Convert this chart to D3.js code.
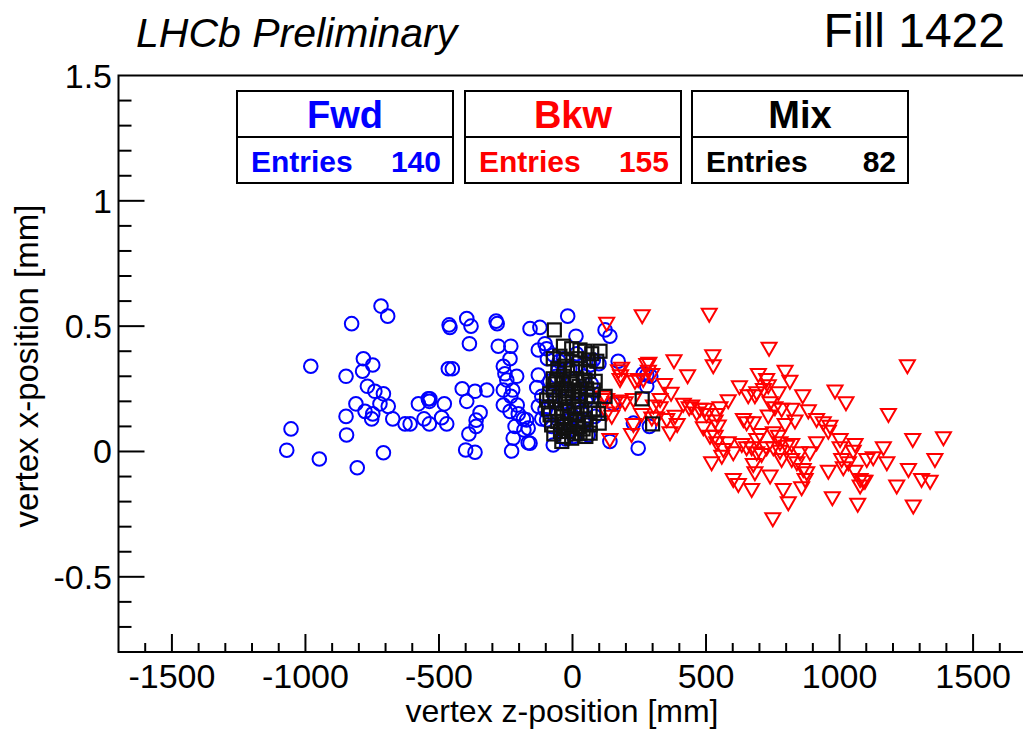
<!DOCTYPE html>
<html>
<head>
<meta charset="utf-8">
<script src="https://cdn.jsdelivr.net/npm/d3@7"></script>
<style>
  body { margin: 0; background: #fff; }
  svg { display: block; font-family: "Liberation Sans", Arial, sans-serif; }
</style>
</head>
<body>
<div id="chart"></div>
<script>
// [z (mm), x (mm)]
const fwd = [
  [-717,0.58],[-692,0.54],[-827,0.51],[-980,0.34],[-848,0.30],[-783,0.37],[-748,0.345],[-786,0.32],[-768,0.26],[-740,0.24],
  [-708,0.23],[-811,0.19],[-721,0.19],[-690,0.18],[-777,0.16],[-748,0.15],[-752,0.13],[-848,0.14],[-673,0.13],[-846,0.066],
  [-1054,0.09],[-1070,0.005],[-948,-0.03],[-806,-0.065],[-708,-0.005],[-627,0.11],[-608,0.11],[-577,0.19],[-540,0.21],[-536,0.20],
  [-534,0.21],[-480,0.19],[-556,0.13],[-536,0.11],[-490,0.135],[-471,0.11],[-462,0.505],[-459,0.495],[-465,0.33],[-450,0.33],
  [-396,0.53],[-380,0.50],[-386,0.43],[-413,0.25],[-365,0.24],[-321,0.245],[-396,0.20],[-346,0.155],[-361,0.125],[-361,0.10],
  [-388,0.07],[-400,0.006],[-365,-0.003],[-286,0.52],[-282,0.51],[-278,0.42],[-231,0.42],[-234,0.37],[-259,0.34],[-253,0.31],
  [-209,0.30],[-246,0.285],[-259,0.245],[-224,0.245],[-231,0.22],[-259,0.185],[-207,0.185],[-234,0.16],[-203,0.15],[-184,0.13],
  [-215,0.10],[-182,0.086],[-222,0.053],[-166,0.035],[-228,0.002],[-159,0.49],[-122,0.495],[-103,0.43],[-128,0.405],[-128,0.305],
  [-134,0.255],[-115,0.22],[-128,0.18],[-115,0.13],[-72,0.026],[-18,0.54],[-94,0.37],
  [13,0.46],[122,0.485],[140,0.46],[171,0.36],[278,0.305],[278,0.26],[153,0.19],[228,0.113],[246,0.013],[140,0.04],
  [59,0.066],[63,0.22],[84,0.14],[-97,0.126],[-34,0.37],[66,0.345],[-66,0.205],[40,0.126],[265,0.31],[293,0.30],
  [288,0.10],[-97,0.41],[-72,0.385],[78,0.365],[99,0.35],[-53,0.325],[-103,0.166],[-78,0.10],[-172,0.126],[-166,0.093],
  [-159,0.033],
  [-60,0.30],[-45,0.25],[-30,0.20],[-55,0.15],[-20,0.12],[-40,0.08],[0,0.28],[10,0.18],[20,0.24],[-10,0.33],
  [30,0.10],[-70,0.23],[45,0.30],[50,0.20],[-25,0.05],[5,0.06],[35,0.16],[-85,0.28],[-50,0.36],[15,0.39],
  [70,0.27],[-5,0.15]
];

const bkw = [
  [128,0.51],[261,0.54],[512,0.545],[736,0.41],[1254,0.34],[380,0.36],[286,0.35],[525,0.38],[527,0.34],[431,0.30],
  [172,0.32],[180,0.30],[178,0.285],[184,0.33],[246,0.285],[265,0.285],[344,0.265],[369,0.23],[328,0.205],[415,0.186],
  [437,0.172],[496,0.166],[502,0.146],[552,0.172],[540,0.146],[534,0.12],[546,0.10],[583,0.20],[625,0.256],[658,0.22],
  [683,0.22],[690,0.232],[696,0.305],[727,0.285],[733,0.26],[715,0.245],[771,0.232],[740,0.192],[796,0.318],[814,0.278],
  [758,0.172],[783,0.166],[821,0.166],[862,0.22],[883,0.16],[833,0.12],[796,0.106],[733,0.14],[640,0.126],[652,0.113],
  [677,0.113],[702,0.066],[690,0.046],[752,0.073],[771,0.059],[777,0.033],[477,0.166],[490,0.093],[515,0.059],[534,0.059],
  [540,0.033],[583,0.033],[565,0.006],[559,-0.021],[521,-0.047],[602,-0.007],[634,0.026],[652,0.013],[671,0.013],[690,-0.007],
  [708,-0.014],[727,0.013],[752,0.013],[777,-0.001],[802,0.019],[821,0.026],[783,-0.034],[821,-0.034],[852,-0.007],[889,-0.007],
  [914,0.033],[840,-0.047],[864,-0.074],[877,-0.087],[871,-0.114],[858,-0.147],[677,-0.054],[683,-0.087],[740,-0.10],[602,-0.114],
  [621,-0.134],[671,-0.154],[789,-0.154],[808,-0.207],[750,-0.27],[958,-0.081],[973,-0.187],[1068,-0.213],[914,0.126],[939,0.113],
  [964,0.099],[958,0.079],[1002,0.046],[1002,0.013],[1008,-0.034],[1058,0.026],[1051,-0.001],[1033,-0.047],[1014,-0.067],[1058,-0.081],
  [1077,-0.114],[1089,-0.121],[1095,-0.121],[1077,-0.14],[1102,-0.034],[1126,-0.027],[1164,0.013],[1177,-0.047],[983,0.239],[1024,0.192],
  [1183,0.146],[1274,0.046],[1389,0.053],[1357,-0.034],[1214,-0.14],[1258,-0.074],[1307,-0.114],[1339,-0.121],[1276,-0.22],[147,0.139],
  [140,0.046],[228,0.106],[221,0.066],[259,0.146],[297,0.132],[315,0.132],[353,0.126],[384,0.139],[392,0.106],[365,0.073],
  [328,0.172],[303,0.179],[228,0.205],[197,0.192],[178,0.199],[128,0.205],[278,0.345],[284,0.318],[297,0.305],[159,0.192],
  [115,0.215],[128,0.152],[465,0.152],[446,0.179],[234,0.278]
];

const mix = [
  [-68,0.485],[-34,0.42],[-3,0.41],[28,0.405],[47,0.40],[72,0.39],[103,0.40],
  [-72,0.37],[-47,0.38],[-22,0.365],[16,0.37],[59,0.365],[91,0.36],
  [-72,0.29],[-34,0.30],[16,0.29],[47,0.285],
  [78,0.245],[122,0.22],[261,0.21],[300,0.11],
  [66,0.166],[97,0.152],[100,0.113],
  [-34,0.06],[-3,0.053],[28,0.073],[66,0.073],[-40,0.04],
  [-97,0.205],[-66,0.205],[-28,0.19],[22,0.205],[72,0.205],[-84,0.146],[-40,0.14],[9,0.146],[-78,0.106],[-28,0.10],
  [22,0.10],[66,0.106],[-59,0.285],[-9,0.29],[-72,0.245],[-28,0.25],[9,0.245],[53,0.25],
  [-50,0.22],[-15,0.23],[5,0.18],[35,0.17],[-60,0.17],[-20,0.16],[45,0.13],[-55,0.12],[-10,0.13],[15,0.12],
  [-45,0.08],[-15,0.08],[10,0.07],[40,0.09],[-65,0.27],[-40,0.27],[-5,0.27],[25,0.26],[-30,0.34],[0,0.33],
  [30,0.33],[60,0.32],[-55,0.33],[-85,0.23],[-90,0.17],[80,0.17],[85,0.28],[-25,0.21],[0,0.22],[30,0.23],
  [55,0.22],[-5,0.10],[-35,0.11],[50,0.06],[-70,0.07]
];

const boxNames = ['Fwd', 'Bkw', 'Mix'];
const boxColors = ['#0000ff', '#ff0000', '#000000'];
const xTicks = [-1500, -1000, -500, 0, 500, 1000, 1500];
const yTicks = [-0.5, 0, 0.5, 1, 1.5];

var W = 1023, H = 730;
var frame = {left: 118.5, right: 1026.5, top: 75.5, bottom: 652};

var svg = d3.select("#chart").append("svg")
  .attr("width", W).attr("height", H);

var x = d3.scaleLinear().domain([-1700, 1700]).range([frame.left, frame.right]);
var y = d3.scaleLinear().domain([-0.8, 1.5]).range([frame.bottom, frame.top]);

// frame
svg.append("rect")
  .attr("x", frame.left).attr("y", frame.top)
  .attr("width", frame.right - frame.left).attr("height", frame.bottom - frame.top)
  .attr("fill", "none").attr("stroke", "#000").attr("stroke-width", 2);

// x axis ticks
var xMinor = d3.range(-1600, 1700, 100);
svg.selectAll(".xtick").data(xMinor).enter().append("line")
  .attr("x1", d => x(d)).attr("x2", d => x(d))
  .attr("y1", frame.bottom)
  .attr("y2", d => frame.bottom - (d % 500 === 0 ? 18 : 9))
  .attr("stroke", "#000").attr("stroke-width", 2);

svg.selectAll(".xlab").data(xTicks).enter().append("text")
  .attr("x", d => x(d)).attr("y", 688)
  .attr("text-anchor", "middle")
  .style("font-size", "34px")
  .text(d => d);

// y axis ticks
var yMinor = d3.range(-7, 15, 1).map(d => d / 10);
svg.selectAll(".ytick").data(yMinor).enter().append("line")
  .attr("x1", frame.left)
  .attr("x2", d => frame.left + (Math.abs(Math.round(d * 10)) % 5 === 0 ? 26 : 13))
  .attr("y1", d => y(d)).attr("y2", d => y(d))
  .attr("stroke", "#000").attr("stroke-width", 2);

svg.selectAll(".ylab").data(yTicks).enter().append("text")
  .attr("x", 112).attr("y", d => y(d) + 12)
  .attr("text-anchor", "end")
  .style("font-size", "34px")
  .text(d => d);

// axis titles
svg.append("text")
  .attr("x", 562).attr("y", 722)
  .attr("text-anchor", "middle")
  .style("font-size", "32px")
  .text("vertex z-position [mm]");

svg.append("text")
  .attr("transform", "translate(38,366) rotate(-90)")
  .attr("text-anchor", "middle")
  .style("font-size", "33px")
  .text("vertex x-position [mm]");

// header
svg.append("text")
  .attr("x", 136).attr("y", 47)
  .style("font-size", "41px").style("font-style", "italic")
  .text("LHCb Preliminary");

svg.append("text")
  .attr("x", 1005).attr("y", 47)
  .attr("text-anchor", "end")
  .style("font-size", "48px")
  .text("Fill 1422");

// markers
var g = svg.append("g");

g.selectAll(".fwd").data(fwd).enter().append("circle")
  .attr("cx", d => x(d[0])).attr("cy", d => y(d[1]))
  .attr("r", 6.8)
  .attr("fill", "none").attr("stroke", "#0000ff").attr("stroke-width", 2);

var tri = "M-7.5,-6L7.5,-6L0,7Z";
g.selectAll(".bkw").data(bkw).enter().append("path")
  .attr("transform", d => "translate(" + x(d[0]) + "," + y(d[1]) + ")")
  .attr("d", tri)
  .attr("fill", "none").attr("stroke", "#ff0000").attr("stroke-width", 2);

g.selectAll(".mix").data(mix).enter().append("rect")
  .attr("x", d => x(d[0]) - 6.5).attr("y", d => y(d[1]) - 6.5)
  .attr("width", 13).attr("height", 13)
  .attr("fill", "none").attr("stroke", "#111").attr("stroke-width", 2.2);

// stat boxes
var entries = [fwd.length, bkw.length, mix.length];
var boxX = [237, 465, 692];
var bw = 216, bTop = 91, bMid = 137, bBot = 183;

boxNames.forEach(function(name, i) {
  var bx = boxX[i];
  svg.append("rect")
    .attr("x", bx).attr("y", bTop).attr("width", bw).attr("height", bBot - bTop)
    .attr("fill", "#fff").attr("stroke", "#000").attr("stroke-width", 2);
  svg.append("line")
    .attr("x1", bx).attr("x2", bx + bw).attr("y1", bMid).attr("y2", bMid)
    .attr("stroke", "#000").attr("stroke-width", 2);
  svg.append("text")
    .attr("x", bx + bw / 2).attr("y", 128)
    .attr("text-anchor", "middle")
    .style("font-size", "38px").style("font-weight", "bold")
    .attr("fill", boxColors[i])
    .text(name);
  svg.append("text")
    .attr("x", bx + 14).attr("y", 172)
    .style("font-size", "30px").style("font-weight", "bold")
    .attr("fill", boxColors[i])
    .text("Entries");
  svg.append("text")
    .attr("x", bx + bw - 12).attr("y", 172)
    .attr("text-anchor", "end")
    .style("font-size", "30px").style("font-weight", "bold")
    .attr("fill", boxColors[i])
    .text(entries[i]);
});
</script>
</body>
</html>
